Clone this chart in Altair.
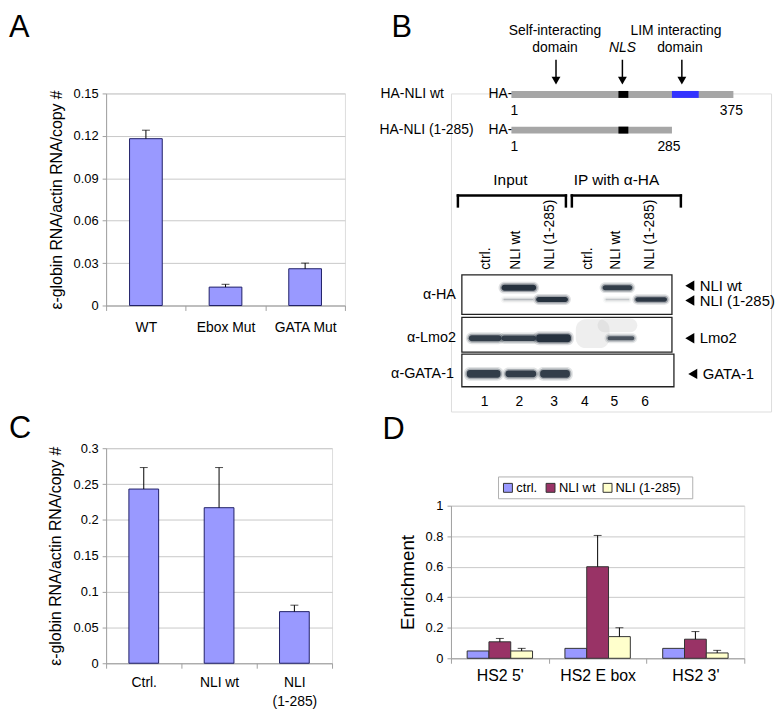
import altair as alt
import pandas as pd
import numpy as np

FONT = "Liberation Sans"

# ---------------- data ----------------
# Panel A
a_cats = ["WT", "Ebox Mut", "GATA Mut"]
a_vals = [0.118, 0.013, 0.026]
a_errs = [0.124, 0.015, 0.030]

# Panel C
c_cats = ["Ctrl.", "NLI  wt", "NLI\n(1-285)"]
c_vals = [0.243, 0.217, 0.072]
c_errs = [0.273, 0.273, 0.081]

# Panel D
d_sites = ["HS2 5'", "HS2 E box", "HS2 3'"]
d_series = ["ctrl.", "NLI wt", "NLI (1-285)"]
d_colors = ["#9999FF", "#993366", "#FFFFCC"]
d_ctrl = [0.048, 0.065, 0.065]
d_wt = [0.108, 0.600, 0.125]
d_wt_err = [0.130, 0.805, 0.175]
d_trunc = [0.048, 0.142, 0.035]
d_trunc_err = [0.065, 0.200, 0.052]

# Panel B (schematic coordinates)
b_texts_center = [
    ("Self-interacting", 557, 26), ("domain", 557, 43),
    ("LIM interacting", 679, 26), ("domain", 683, 43),
    ("375", 735, 107), ("285", 672, 143),
]
b_texts_head = [("Input", 512, 176), ("IP with \u03b1-HA", 619, 176)]
b_texts_left = [
    ("HA-NLI wt", 381, 90), ("HA-NLI (1-285)", 380, 126),
    ("1", 512, 107), ("1", 512, 143),
]
b_texts_marker = [
    ("NLI wt", 703, 283), ("NLI (1-285)", 703, 298),
    ("Lmo2", 703, 336), ("GATA-1", 706, 372),
]
b_texts_ha = [("HA-", 514, 90), ("HA-", 514, 126)]
b_texts_ab = [("\u03b1-HA", 457, 292), ("\u03b1-Lmo2", 457, 336), ("\u03b1-GATA-1", 455, 372)]
b_nls = [("NLS", 625, 43)]
b_lanes = ["ctrl.", "NLI wt", "NLI (1-285)", "ctrl.", "NLI wt", "NLI (1-285)"]
b_lane_x = [487, 518, 552, 590, 619, 653]
b_lane_num = ["1", "2", "3", "4", "5", "6"]
b_num_x = [486, 521, 556, 587, 617, 648]
b_arrows_x = [558, 625, 685]
b_pointer_y = [283, 298, 336, 372]
b_pointer_x = [693, 693, 693, 696]
# protein bars: x1, x2, y1, y2, colour
b_segments = [
    (513, 737, 86.5, 93.5, "#A6A6A6"),
    (621, 631, 86.5, 93.5, "#000000"),
    (675, 702, 86.5, 93.5, "#3333FF"),
    (513, 675, 122.5, 129.5, "#A6A6A6"),
    (621, 631, 122.5, 129.5, "#000000"),
]
# blot panels
b_boxes = [(463, 675, 272, 312), (463, 675, 315, 350), (463, 677, 352, 385)]
# bands: x1, x2, y centre, thickness, opacity
b_bands = [
    (503, 538, 285, 6, 1.0), (605, 635, 285, 5, 0.9),
    (538, 570, 297, 5, 1.0), (638, 670, 297, 4.5, 0.95),
    (505, 535, 297, 1.4, 0.25), (608, 632, 297, 1.4, 0.2),
    (470, 503, 336, 6, 0.9), (503, 538, 336, 5.5, 0.9), (538, 573, 336, 8, 1.0),
    (610, 637, 336, 4, 0.75),
    (468, 502, 372, 8, 0.9), (507, 538, 372, 7, 0.9), (542, 572, 372, 8, 0.9),
]
# brackets: x1, x2, ytop, ybottom
b_brackets = [(459, 568, 192, 203), (574, 684, 192, 203)]


# ---------------- helpers ----------------
def yaxis(title, values, fmt, title_pad, title_size=16):
    return alt.Axis(title=title, values=values, tickCount=50, format=fmt,
                    grid=True, gridColor="#c8c8c8", gridWidth=1,
                    domainColor="#a0a0a0", tickColor="#a0a0a0", tickSize=4,
                    labelFont=FONT, labelFontSize=13, labelColor="black",
                    labelPadding=4, labelOverlap=False, labelBound=False,
                    titleFont=FONT, titleFontSize=title_size,
                    titleFontWeight="normal", titlePadding=title_pad,
                    titleColor="black")


def xaxis(pad, size=14):
    return alt.Axis(title=None, labelAngle=0, tickBand="extent", tickSize=5,
                    tickColor="#a0a0a0", domainColor="#a0a0a0",
                    labelFont=FONT, labelFontSize=size, labelColor="black",
                    labelPadding=pad, grid=False, labelOverlap=False,
                    labelExpr="split(datum.label, '\\n')", labelLineHeight=20)


def letter(ch, dx, dy):
    return alt.Chart(pd.DataFrame({"t": [ch]})).mark_text(
        align="left", baseline="top", fontSize=31, font=FONT, color="black"
    ).encode(x=alt.value(dx), y=alt.value(dy), text="t:N")


def simple_bar(cats, vals, errs, ymax, yvals, fmt, ytitle, w, h, barw,
               tpad, lpad, let, ldx, ldy):
    df = pd.DataFrame({"cat": cats, "val": vals, "err": errs})
    base = alt.Chart(df).encode(
        x=alt.X("cat:N", sort=cats,
                scale=alt.Scale(paddingInner=0, paddingOuter=0),
                axis=xaxis(lpad)))
    bars = base.mark_bar(size=barw, fill="#9999FF", stroke="#1f1f66",
                         strokeWidth=1).encode(
        y=alt.Y("val:Q", scale=alt.Scale(domain=[0, ymax], nice=False),
                axis=yaxis(ytitle, yvals, fmt, tpad)))
    rule = base.mark_rule(color="black", strokeWidth=1).encode(
        y="val:Q", y2="err:Q")
    cap = base.mark_tick(color="black", size=8, thickness=1).encode(y="err:Q")
    return alt.layer(bars, rule, cap, letter(let, ldx, ldy)).properties(
        width=w, height=h)


ytitle = "\u03b5-globin RNA/actin RNA/copy #"

chartA = simple_bar(a_cats, a_vals, a_errs, 0.15,
                    [0, 0.03, 0.06, 0.09, 0.12, 0.15], ".2~f", ytitle,
                    241, 214, 33, 9, 10, "A", -98, -81)

chartC = simple_bar(c_cats, c_vals, c_errs, 0.3,
                    [0, 0.05, 0.1, 0.15, 0.2, 0.25, 0.3], ".2~f", ytitle,
                    228, 217, 30, 10, 7, "C", -98, -34)

# ---------------- panel D ----------------
rows = []
for i, s in enumerate(d_sites):
    rows.append({"site": s, "series": d_series[0], "val": d_ctrl[i], "err": np.nan})
    rows.append({"site": s, "series": d_series[1], "val": d_wt[i], "err": d_wt_err[i]})
    rows.append({"site": s, "series": d_series[2], "val": d_trunc[i], "err": d_trunc_err[i]})
dfD = pd.DataFrame(rows)

colorD = alt.Color("series:N", sort=d_series,
                   scale=alt.Scale(domain=d_series, range=d_colors), legend=None)

baseD = alt.Chart(dfD).encode(
    x=alt.X("site:N", sort=d_sites,
            scale=alt.Scale(paddingInner=0, paddingOuter=0),
            axis=xaxis(4, 16)),
    xOffset=alt.XOffset("series:N", sort=d_series,
                        scale=alt.Scale(paddingInner=0, paddingOuter=0.743)),
)
barsD = baseD.mark_bar(stroke="#333333", strokeWidth=1).encode(
    y=alt.Y("val:Q", scale=alt.Scale(domain=[0, 1], nice=False),
            axis=yaxis("Enrichment", [0, 0.2, 0.4, 0.6, 0.8, 1], ".1~f", 8, 19)),
    color=colorD,
)
ruleD = baseD.transform_filter("isValid(datum.err)").mark_rule(
    color="black", strokeWidth=1).encode(y="val:Q", y2="err:Q")
capD = baseD.transform_filter("isValid(datum.err)").mark_tick(
    color="black", size=8, thickness=1).encode(y="err:Q")

# legend drawn by hand (box, swatches, labels)
leg_sym_x = [57.5, 100.5, 158]
leg_txt_x = [66, 109, 166]
dfLeg = pd.DataFrame({"series": d_series, "sx": leg_sym_x, "tx": leg_txt_x})
legBox = alt.Chart(pd.DataFrame({"a": [0]})).mark_rect(
    fill="white", stroke="#b0b0b0", strokeWidth=1).encode(
    x=alt.value(48), x2=alt.value(244), y=alt.value(-29), y2=alt.value(-7))
legSym = alt.Chart(dfLeg).mark_point(shape="square", filled=True, size=81,
                                     stroke="#333333", strokeWidth=1,
                                     opacity=1).encode(
    x=alt.X("sx:Q", scale=None), y=alt.value(-18), color=colorD)
legTxt = alt.Chart(dfLeg).mark_text(align="left", baseline="middle", font=FONT,
                                    fontSize=13, color="black").encode(
    x=alt.X("tx:Q", scale=None), y=alt.value(-18), text="series:N")

chartD = alt.layer(barsD, ruleD, capD, legBox, legSym, legTxt,
                   letter("D", -69, -91)).properties(width=296, height=154)

# ---------------- panel B ----------------
BX = alt.Scale(domain=[452, 775], nice=False, zero=False)
BY = alt.Scale(domain=[89, 410], nice=False, zero=False, reverse=True)


def tx(f="x"):
    return alt.X(f + ":Q", scale=BX, axis=None)


def ty(f="y"):
    return alt.Y(f + ":Q", scale=BY, axis=None)


def text_layer(items, align, size=14, style="normal", angle=0, baseline="middle"):
    df = pd.DataFrame(items, columns=["t", "x", "y"])
    return alt.Chart(df).mark_text(align=align, baseline=baseline, font=FONT,
                                   fontSize=size, fontStyle=style, angle=angle,
                                   color="black").encode(
        x=tx(), y=ty(), text="t:N")


layersB = []
layersB.append(text_layer([("B", 392, 8)], "left", 31, baseline="top"))
layersB.append(text_layer(b_texts_center, "center"))
layersB.append(text_layer(b_texts_head, "center", 15.5))
layersB.append(text_layer(b_texts_left, "left"))
layersB.append(text_layer(b_texts_marker, "left", 15))
layersB.append(text_layer(b_texts_ha, "right"))
layersB.append(text_layer(b_texts_ab, "right", 14.5))
layersB.append(text_layer(b_nls, "center", style="italic"))
layersB.append(text_layer(list(zip(b_lanes, b_lane_x, [267] * 6)), "left", 14, angle=270))
layersB.append(text_layer(list(zip(b_lane_num, b_num_x, [400] * 6)), "center", 14))

# arrows
dfArr = pd.DataFrame({"x": b_arrows_x, "y": [55] * 3, "y2": [73] * 3, "yh": [76] * 3})
layersB.append(alt.Chart(dfArr).mark_rule(color="black", strokeWidth=1.5).encode(
    x=tx(), y=ty(), y2="y2:Q"))
layersB.append(alt.Chart(dfArr).mark_point(shape="triangle-down", filled=True,
                                           size=80, color="black", opacity=1).encode(
    x=tx(), y=ty("yh")))

# pointers
dfPt = pd.DataFrame({"x": b_pointer_x, "y": b_pointer_y})
layersB.append(alt.Chart(dfPt).mark_point(shape="triangle-left", filled=True,
                                          size=110, color="black", opacity=1).encode(
    x=tx(), y=ty()))

# protein segments
dfSeg = pd.DataFrame(b_segments, columns=["x", "x2", "y", "y2", "c"])
layersB.append(alt.Chart(dfSeg).mark_rect().encode(
    x=tx(), x2="x2:Q", y=ty(), y2="y2:Q",
    color=alt.Color("c:N", scale=None)))

# brackets
dfBr = pd.DataFrame(b_brackets, columns=["x", "x2", "y", "y2"])
layersB.append(alt.Chart(dfBr).mark_rule(color="black", strokeWidth=2.5, strokeCap="square").encode(
    x=tx(), x2="x2:Q", y=ty()))
layersB.append(alt.Chart(dfBr).mark_rule(color="black", strokeWidth=2.5, strokeCap="square").encode(
    x=tx(), y=ty(), y2="y2:Q"))
layersB.append(alt.Chart(dfBr).mark_rule(color="black", strokeWidth=2.5, strokeCap="square").encode(
    x=tx("x2"), y=ty(), y2="y2:Q"))

# blot boxes
dfBox = pd.DataFrame(b_boxes, columns=["x", "x2", "y", "y2"])
layersB.append(alt.Chart(dfBox).mark_rect(fill="white", stroke="#222222", strokeWidth=1.3).encode(
    x=tx(), x2="x2:Q", y=ty(), y2="y2:Q"))
# smudge in Lmo2 IP lanes
dfSm = pd.DataFrame({"x": [578, 600], "x2": [612, 640], "y": [317, 316], "y2": [346, 330]})
layersB.append(alt.Chart(dfSm).mark_rect(fill="#c8c8c8", opacity=0.3, cornerRadius=10).encode(
    x=tx(), x2="x2:Q", y=ty(), y2="y2:Q"))

# bands (soft halo layers + core)
dfBand = pd.DataFrame(b_bands, columns=["x", "x2", "yc", "h", "op"])
for grow, frac, rad in [(3.0, 0.15, 6), (1.5, 0.35, 5), (0.0, 1.0, 3)]:
    d = dfBand.copy()
    d["y"] = d["yc"] - d["h"] / 2 - grow
    d["y2"] = d["yc"] + d["h"] / 2 + grow
    d["xa"] = d["x"] - grow
    d["xb"] = d["x2"] + grow
    d["o"] = d["op"] * frac
    layersB.append(alt.Chart(d).mark_rect(fill="#27323f", cornerRadius=rad).encode(
        x=tx("xa"), x2="xb:Q", y=ty(), y2="y2:Q",
        opacity=alt.Opacity("o:Q", scale=None)))

chartB = alt.layer(*layersB).properties(width=323, height=321)

# ---------------- assemble ----------------
col1 = alt.vconcat(chartA, chartC, spacing=78)
col2 = alt.vconcat(chartB, chartD, spacing=1)
chart = alt.hconcat(col1, col2, spacing=33).properties(padding=0).configure_view(
    stroke=None).configure(font=FONT)

chart.save("out.html", embed_options={"renderer": "svg", "actions": False})
